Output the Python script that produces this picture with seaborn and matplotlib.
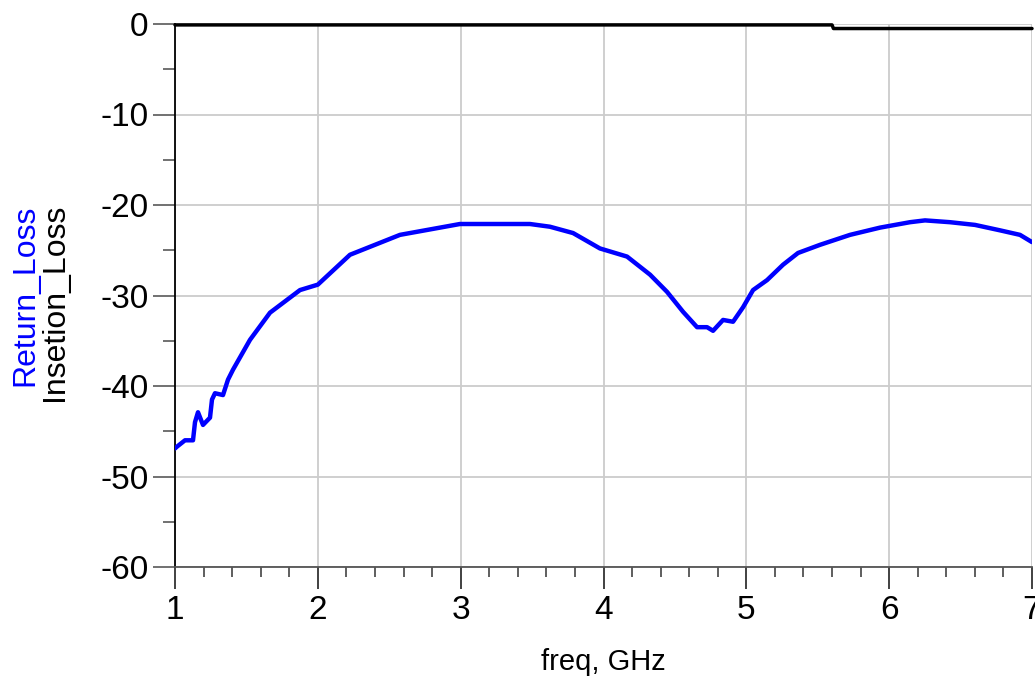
import numpy as np
import pandas as pd
import seaborn as sns
import matplotlib.pyplot as plt
from matplotlib.ticker import MultipleLocator

# values
freq_rl = [1.0, 1.014, 1.07, 1.126, 1.14, 1.161, 1.196, 1.245, 1.259, 1.28, 1.336, 1.371,
           1.406, 1.525, 1.665, 1.875, 2.0, 2.225, 2.575, 2.995, 3.485, 3.625, 3.787,
           3.975, 4.165, 4.326, 4.445, 4.557, 4.655, 4.725, 4.767, 4.837, 4.907, 4.977,
           5.047, 5.145, 5.257, 5.362, 5.516, 5.726, 5.936, 6.146, 6.251, 6.426, 6.601,
           6.776, 6.916, 7.0]
return_loss = [-46.9, -46.7, -46.0, -46.0, -44.0, -42.9, -44.3, -43.5, -41.5, -40.8, -41.0,
               -39.3, -38.2, -34.9, -31.9, -29.4, -28.8, -25.5, -23.3, -22.1, -22.1, -22.4,
               -23.1, -24.8, -25.7, -27.7, -29.6, -31.8, -33.5, -33.5, -33.9, -32.7, -32.9,
               -31.3, -29.4, -28.3, -26.6, -25.3, -24.4, -23.3, -22.5, -21.9, -21.7, -21.9,
               -22.2, -22.8, -23.3, -24.1]

freq_il = [1.0, 5.6, 5.61, 7.0]
insertion_loss = [-0.1, -0.1, -0.5, -0.5]

df_rl = pd.DataFrame({"freq": freq_rl, "loss": return_loss})
df_il = pd.DataFrame({"freq": freq_il, "loss": insertion_loss})

sns.set_style("white")
plt.rcParams['font.family'] = ['Liberation Sans', 'DejaVu Sans']
plt.rcParams['axes.unicode_minus'] = False
plt.rcParams['text.color'] = 'black'
plt.rcParams['xtick.labelcolor'] = 'black'
plt.rcParams['ytick.labelcolor'] = 'black'

fig = plt.figure(figsize=(10.35, 6.83), dpi=100)
ax = fig.add_axes([175 / 1035, 1 - 567 / 683, (1032 - 175) / 1035, (567 - 24) / 683])

sns.lineplot(data=df_rl, x="freq", y="loss", ax=ax, color="#0000ff", lw=3.2,
             estimator=None, sort=False, zorder=3)
sns.lineplot(data=df_il, x="freq", y="loss", ax=ax, color="black", lw=2.5,
             estimator=None, sort=False, clip_on=False, zorder=4)

ax.set_xlim(1, 7)
ax.set_ylim(-60, 0)
ax.xaxis.set_major_locator(MultipleLocator(1))
ax.xaxis.set_minor_locator(MultipleLocator(0.2))
ax.yaxis.set_major_locator(MultipleLocator(10))
ax.yaxis.set_minor_locator(MultipleLocator(5))
ax.grid(True, which="major", color="#cccccc", lw=1.3)

for s in ["top", "right"]:
    ax.spines[s].set_visible(False)
ax.spines["left"].set_color("black")
ax.spines["left"].set_linewidth(1.3)
ax.spines["bottom"].set_color("#555555")
ax.spines["bottom"].set_linewidth(1.3)

ax.tick_params(axis="x", which="major", direction="out", length=16, width=1.3,
               color="#333333", labelsize=24, pad=4, bottom=True, labelcolor="black")
ax.tick_params(axis="x", which="minor", direction="out", length=7, width=1.1,
               color="#333333", bottom=True)
ax.tick_params(axis="y", which="major", direction="out", length=16, width=1.3,
               color="#666666", labelsize=24, pad=3, left=True, labelcolor="black")
ax.tick_params(axis="y", which="minor", direction="out", length=9, width=1.3,
               color="#666666", left=True)

ax.set_xlabel("")
ax.set_ylabel("")
fig.text(603 / 1035, 1 - 662 / 683, "freq, GHz", ha="center", va="center",
         fontsize=21, color="black")
fig.text(25 / 1035, 1 - 295 / 683, "Return_Loss", color="#0000ff", rotation=90,
         ha="center", va="center", fontsize=23)
fig.text(55 / 1035, 1 - 302 / 683, "Insetion_Loss", color="black", rotation=90,
         ha="center", va="center", fontsize=23)

fig.savefig("out.png", dpi=100)
